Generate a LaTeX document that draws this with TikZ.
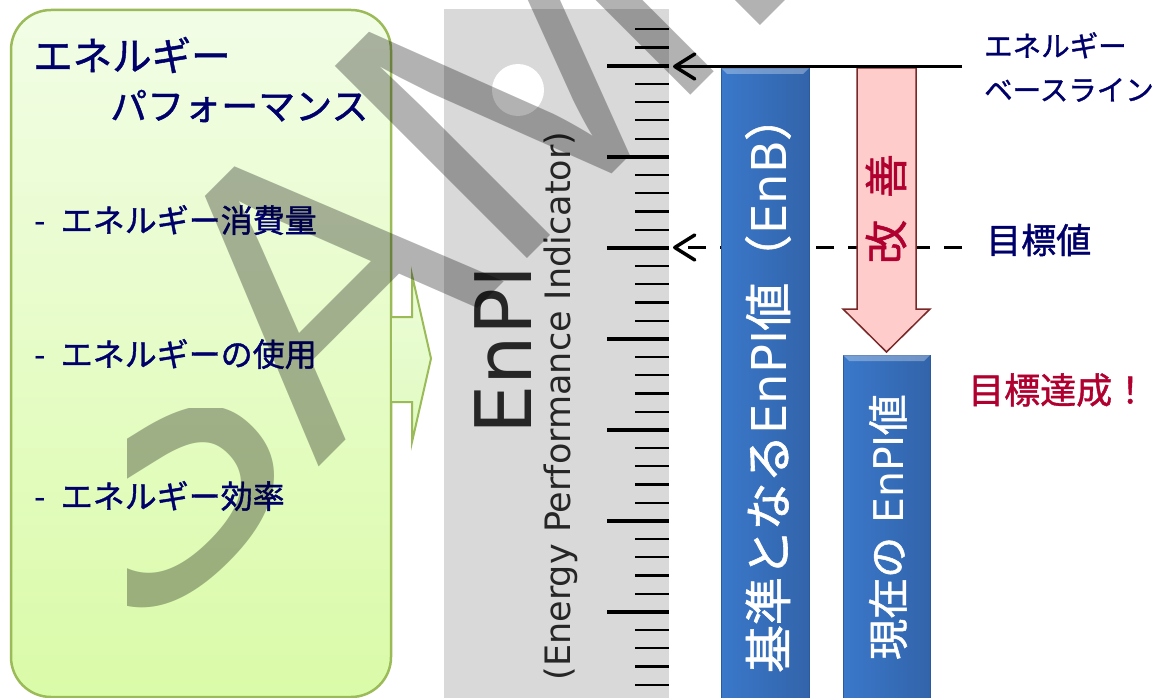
\documentclass[tikz,border=0pt]{standalone}
\usepackage{fontspec}
\setmainfont{DejaVu Sans}
\newfontfamily\jp{Noto Sans CJK JP}[FakeBold=1.2]
\newfontfamily\wmf{Liberation Sans}
\usetikzlibrary{arrows.meta}
\definecolor{navy}{RGB}{0,0,106}
\definecolor{dred}{RGB}{176,0,48}
\definecolor{gborder}{RGB}{155,187,89}
\definecolor{gtop}{RGB}{242,253,230}
\definecolor{gbot}{RGB}{218,251,168}
\definecolor{rulergray}{RGB}{217,217,217}
\definecolor{txtgray}{RGB}{38,38,38}
\definecolor{blA}{RGB}{58,120,202}
\definecolor{blB}{RGB}{70,138,220}
\definecolor{blC}{RGB}{50,100,170}
\definecolor{blD}{RGB}{44,90,158}
\definecolor{pinkf}{RGB}{255,204,204}
\definecolor{pinkd}{RGB}{120,40,40}
\tikzset{
  gbox/.style={draw=gborder, line width=2.5pt, rounded corners=40pt, top color=gtop, bottom color=gbot,
    minimum width=380pt, minimum height=687pt, inner sep=0pt},
  navytext/.style={text=navy, inner sep=0pt},
  bluebar/.style={left color=blA, middle color=blB, right color=blC, draw=blD, line width=0.8pt, inner sep=0pt},
  conn/.style={line width=3.5pt, -{Straight Barb[length=20pt,width=25pt,round]}},
  longtick/.style={line width=4pt},
  shorttick/.style={line width=2.2pt},
  wmark/.style={rotate=45, anchor=base west, inner sep=0pt, text=black, text opacity=0.3,
    font=\wmf\fontsize{395}{395}\selectfont},
}
\begin{document}
\begin{tikzpicture}[x=1pt,y=-1pt]
\useasboundingbox (0,0) rectangle (1153,698);
\fill[white] (0,0) rectangle (1153,698);
% left box
\node[gbox] (perf) at (201,353.5) {};
% green block arrow
\fill[top color={rgb,255:red,236;green,252;blue,216}, bottom color={rgb,255:red,224;green,251;blue,192}]
  (392.5,317) -- (412,317) -- (412,275) -- (431,358.5) -- (412,442) -- (412,402) -- (392.5,402) -- cycle;
\draw[gborder, line width=2pt] (392,317) -- (412,317) -- (412,275) -- (431,358.5) -- (412,442) -- (412,402) -- (392,402);
% ruler
\fill[rulergray] (444,9) rectangle (669,710);
\fill[white] (518,90) circle (26pt);
\foreach \i in {0,...,36}{
  \pgfmathsetmacro\ty{29.4+18.2*\i}
  \pgfmathtruncatemacro\m{mod(\i+3,5)}
  \ifnum\m=0
    \draw[longtick] (607,\ty) -- (669,\ty);
  \else
    \draw[shorttick] (635,\ty) -- (669,\ty);
  \fi
}
\node[rotate=90, text=txtgray, inner sep=0pt, font=\fontsize{78}{78}\selectfont] (enpi) at (503.5,350) {EnPI};
\node[rotate=90, text=txtgray, inner sep=0pt, font=\fontsize{35}{35}\selectfont] (enpifull) at (561,406) {(Energy Performance Indicator)};
% target (dashed) line
\coordinate (tgtR) at (962,247.5);
\coordinate (tgtL) at (673,247.5);
\draw[conn, dash pattern=on 18pt off 14pt] (tgtR) -- (tgtL);
% blue bars
\node[bluebar, minimum width=88pt, minimum height=640pt] (enb) at (765,388) {};
\fill[white, opacity=0.3] (721,68) -- (809,68) -- (803,74) -- (727,74) -- cycle;
\node[bluebar, minimum width=87pt, minimum height=353pt] (cur) at (886.5,531.5) {};
\fill[white, opacity=0.3] (843,355) -- (930,355) -- (924,361) -- (849,361) -- cycle;
% pink arrow
\draw[fill=pinkf, draw=pinkd, line width=1.5pt] (857,68) -- (916,68) -- (916,309) -- (930,309) -- (886.5,352) -- (843,309) -- (857,309) -- cycle;
% baseline line
\coordinate (baseR) at (962,66.5);
\coordinate (baseL) at (673,66.5);
\draw[conn] (baseR) -- (baseL);
% left texts
\node[anchor=west, navytext, font=\jp\fontsize{39.5}{39.5}\selectfont] (t1) at (33,55) {エネルギー};
\node[anchor=west, navytext, font=\jp\fontsize{37}{37}\selectfont] (t2) at (110,106) {パフォーマンス};
\node[anchor=west, navytext, font=\fontsize{32}{32}\selectfont] (b1) at (34,220) {-\hspace{15pt}{\jp エネルギー消費量}};
\node[anchor=west, navytext, font=\fontsize{32}{32}\selectfont] (b2) at (34,354) {-\hspace{15pt}{\jp エネルギーの使用}};
\node[anchor=west, navytext, font=\fontsize{32}{32}\selectfont] (b3) at (34,496) {-\hspace{15pt}{\jp エネルギー効率}};
% right texts
\node[anchor=west, align=left, navytext, font=\jp\fontsize{28.5}{44}\selectfont] (bline) at (984,67) {エネルギー\\ベースライン};
\node[anchor=west, navytext, font=\jp\fontsize{35}{35}\selectfont] (goal) at (986,240) {目標値};
\node[anchor=west, text=dred, inner sep=0pt, font=\jp\fontsize{36}{36}\selectfont] (ach) at (968,390) {目標達成！};
% bar texts
\node[rotate=90, text=dred, inner sep=0pt, font=\jp\fontsize{44}{44}\selectfont] (kaizen) at (886,209) {改\hspace{22pt}善};
\node[rotate=90, text=white, inner sep=0pt, font=\fontsize{48}{48}\selectfont] (enbtxt) at (768,383) {{\jp 基準となる}EnPI{\jp 値（}EnB{\jp ）}};
\node[rotate=90, text=white, inner sep=0pt, font=\fontsize{41}{41}\selectfont] (curtxt) at (888,527) {{\jp 現在の} EnPI{\jp 値}};
% watermark
\begin{scope}
\clip (127,408) rectangle (420,698);
\node[wmark] (wmS) at (132,654) {S};
\end{scope}
\begin{scope}
\clip (127,0) rectangle (1153,698);
\node[wmark] (wmRest) at (318.3,467.7) {AMPLE};
\end{scope}
\end{tikzpicture}
\end{document}
